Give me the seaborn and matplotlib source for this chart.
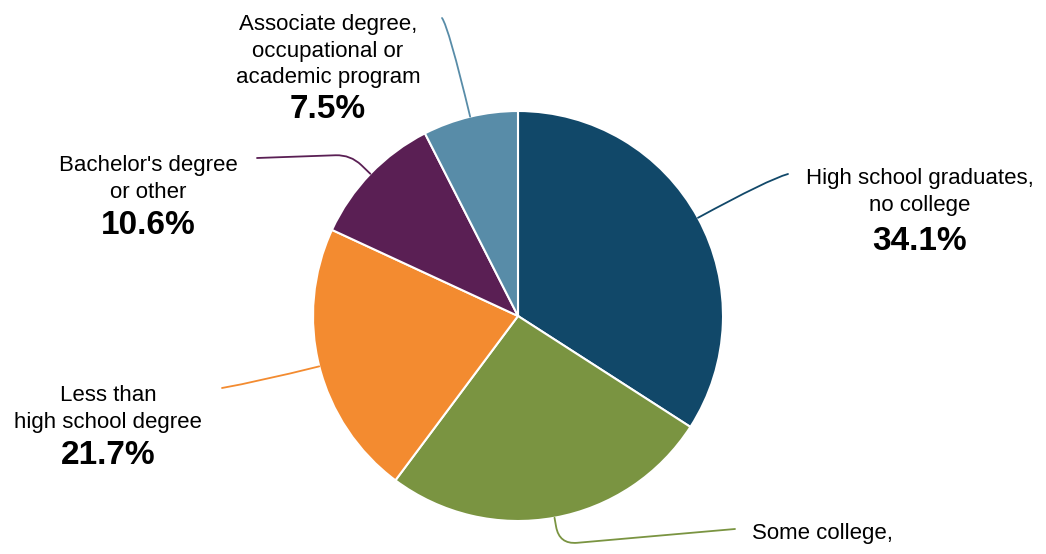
import seaborn as sns
import matplotlib.pyplot as plt
import numpy as np

sns.set_theme(style="white")
plt.rcParams['font.family'] = ['Liberation Sans', 'DejaVu Sans']

# data (clockwise from 12 o'clock)
categories = ["High school graduates,\nno college", "Some college,",
              "Less than\nhigh school degree", "Bachelor's degree\nor other",
              "Associate degree,\noccupational or\nacademic program"]
shares = [34.1, 26.1, 21.7, 10.6, 7.5]
colors = ["#114869", "#7a9441", "#f38b30", "#5a1f54", "#588ca8"]

fig = plt.figure(figsize=(10.46, 5.54), dpi=100)
ax = fig.add_axes([0, 0, 1, 1])

wedges, _ = ax.pie(shares, colors=sns.color_palette(colors), startangle=90,
                   counterclock=False, center=(518, 238), radius=205,
                   wedgeprops=dict(edgecolor="white", linewidth=1.5))
ax.set_xlim(0, 1046)
ax.set_ylim(0, 554)
ax.set_aspect("auto")
ax.axis("off")

# label placement: name block centre, percent centre, leader end, connection style
layout = [
    dict(name=(920, 362), pct=(920, 313), end=(788, 380), ha="center",
         conn="angle3,angleA=15,angleB=28.6"),
    dict(name=(752, 20), pct=None, end=(735, 25), ha="left",
         conn="angle,angleA=5,angleB=-80,rad=18"),
    dict(name=(108, 145), pct=(108, 98), end=(222, 166), ha="center",
         conn="angle3,angleA=10,angleB=14"),
    dict(name=(148, 375), pct=(148, 328), end=(257, 396), ha="center",
         conn="angle,angleA=2,angleB=136,rad=15"),
    dict(name=(328, 503), pct=(328, 444), end=(442, 536), ha="center",
         conn="angle3,angleA=-54,angleB=103.5"),
]

for w, cat, val, col, lay in zip(wedges, categories, shares, colors, layout):
    mid = np.deg2rad((w.theta1 + w.theta2) / 2)
    px = w.center[0] + w.r * np.cos(mid)
    py = w.center[1] + w.r * np.sin(mid)
    ax.annotate("", xy=(px, py), xytext=lay["end"],
                arrowprops=dict(arrowstyle="-", color=col, lw=1.3,
                                shrinkA=0, shrinkB=0,
                                connectionstyle=lay["conn"]))
    ax.text(*lay["name"], cat, ha=lay["ha"], va="center", fontsize=16,
            linespacing=1.36, color="black")
    if lay["pct"] is not None:
        ax.text(*lay["pct"], f"{val}%", ha="center", va="center",
                fontsize=24, fontweight="bold", color="black")

fig.savefig("out.png", dpi=100)
